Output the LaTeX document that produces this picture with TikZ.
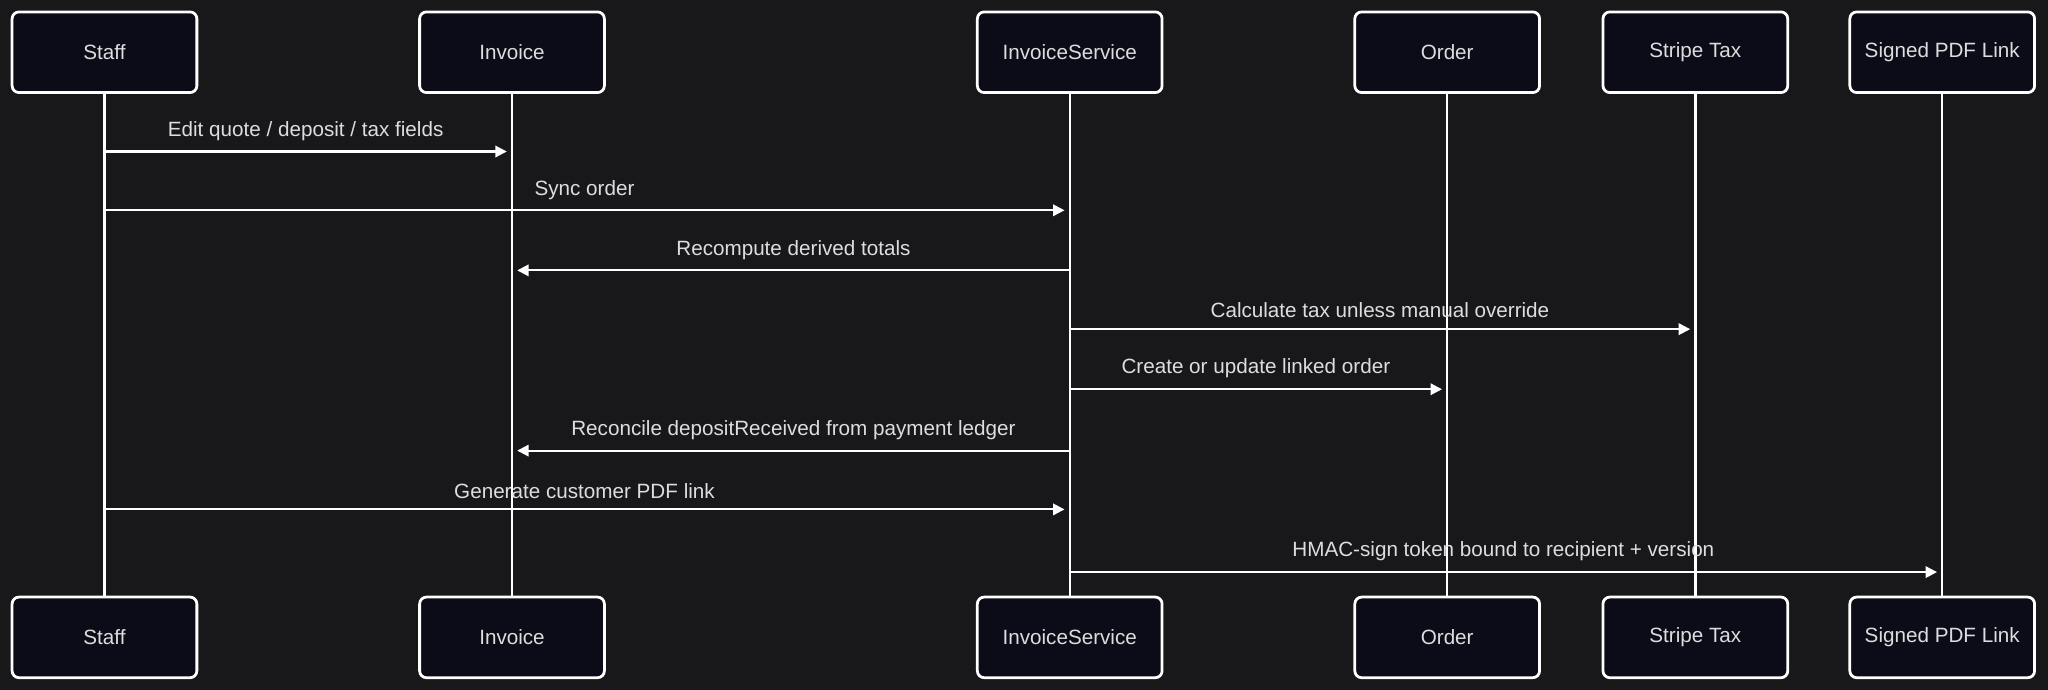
\documentclass[tikz,border=0pt]{standalone}
\usepackage{fontspec}
\setmainfont{Liberation Sans}
\usetikzlibrary{arrows.meta,calc}
\definecolor{bgc}{HTML}{18181B}
\definecolor{boxc}{HTML}{0C0C18}
\definecolor{txtc}{HTML}{DDDDDD}
\newlength{\dunit}
\setlength{\dunit}{0.567pt}
\tikzset{
  actor/.style={draw=white,line width=1.2pt,fill=boxc,rounded corners=3pt,
    minimum width=142\dunit,minimum height=62\dunit,text=txtc,font=\fontsize{9}{11}\selectfont},
  msg/.style={draw=white,line width=0.9pt,-{Triangle[length=5pt,width=5pt]}},
  lbl/.style={text=txtc,font=\fontsize{9}{11}\selectfont,above=1pt}
}
\begin{document}
\begin{tikzpicture}[x=0.02cm,y=-0.02cm]
      \fill[bgc] (0,0) rectangle (1568,528);
      % lifelines and participant boxes
      \foreach \nm/\xx/\txt in {staff/80/Staff,inv/392/Invoice,svc/819/InvoiceService,
          ord/1108/Order,tax/1298/Stripe Tax,pdf/1487/Signed PDF Link}{
        \coordinate (\nm) at (\xx,0);
        \draw[white,line width=1pt] (\xx,40) -- (\xx,488);
        \node[actor] (\nm top) at (\xx,40) {\txt};
        \node[actor] (\nm bot) at (\xx,488) {\txt};
      }
      % messages
      \foreach \a/\b/\yy/\txt in {staff/inv/116/{Edit quote / deposit / tax fields},
          staff/svc/161/{Sync order},
          svc/inv/207/{Recompute derived totals},
          svc/tax/252/{Calculate tax unless manual override},
          svc/ord/298/{Create or update linked order},
          svc/inv/345/{Reconcile depositReceived from payment ledger},
          staff/svc/390/{Generate customer PDF link},
          svc/pdf/438/{HMAC-sign token bound to recipient + version}}{
        \coordinate (s) at ($(\a)+(0,\yy)$);
        \coordinate (e) at ($(\b)+(0,\yy)$);
        \draw[msg] (s) -- ($(e)!4\dunit!(s)$) node[lbl,midway] {\txt};
      }
\end{tikzpicture}
\end{document}
